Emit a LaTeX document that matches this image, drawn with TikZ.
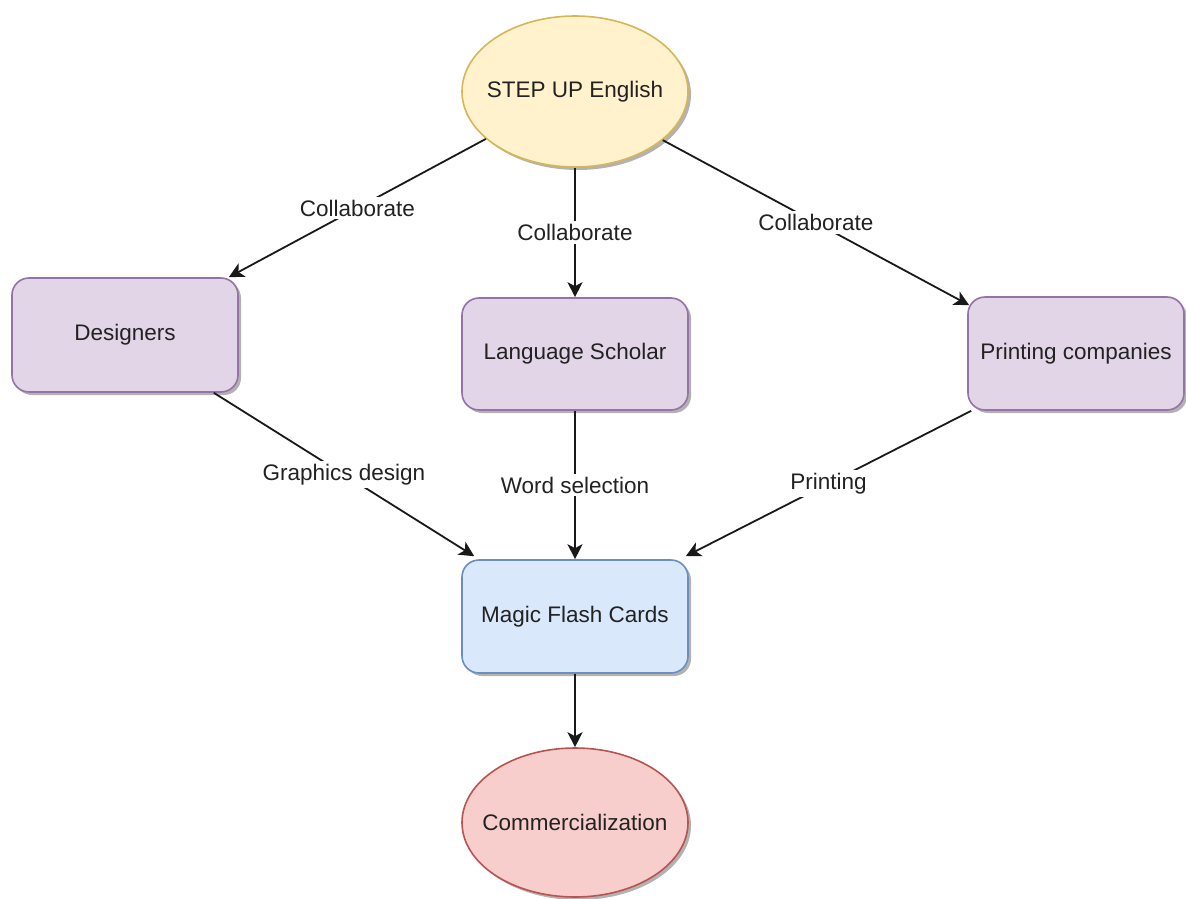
\documentclass[tikz,border=0pt]{standalone}
\usepackage{fontspec}
\setmainfont{Liberation Sans}
\usetikzlibrary{shapes.geometric,arrows.meta,shadows,calc}

\definecolor{yfill}{HTML}{FFF2CC}\definecolor{ydraw}{HTML}{D6B656}
\definecolor{pfill}{HTML}{E1D5E7}\definecolor{pdraw}{HTML}{9673A6}
\definecolor{bfill}{HTML}{DAE8FC}\definecolor{bdraw}{HTML}{6C8EBF}
\definecolor{rfill}{HTML}{F8CECC}\definecolor{rdraw}{HTML}{B85450}
\definecolor{ink}{HTML}{222222}

\tikzset{
  base/.style={line width=1.6pt, text=ink, font=\fontsize{22.5}{27}\selectfont,
    inner sep=0pt,
    drop shadow={shadow xshift=3pt, shadow yshift=-3pt, opacity=0.3, fill=black}},
  oval/.style={base, ellipse, minimum width=226pt, minimum height=151pt},
  card/.style={base, rectangle, rounded corners=17pt},
  purplecard/.style={card, fill=pfill, draw=pdraw},
  link/.style={line width=1.8pt, draw=black!90, -{Stealth[length=15pt,width=15pt,inset=4pt]}},
  lbl/.style={fill=white, text=ink, inner sep=3pt, font=\fontsize{22.5}{27}\selectfont}
}
% text set in a zero-width box so the ellipse keeps its given size
\newcommand{\ovaltext}[1]{\makebox[0pt]{#1}}

\begin{document}
\begin{tikzpicture}[x=1pt,y=-1pt]
  \useasboundingbox (0,0) rectangle (1186,899);

  % nodes
  \node[oval, fill=yfill, draw=ydraw] (step) at (575,91.5) {\ovaltext{STEP UP English}};
  \node[purplecard, minimum width=226pt, minimum height=114pt] (des) at (125,335) {Designers};
  \node[purplecard, minimum width=226pt, minimum height=112pt] (lang) at (575,354) {Language Scholar};
  \node[purplecard, minimum width=216pt, minimum height=113pt] (print) at (1076,353.5) {Printing companies};
  \node[card, fill=bfill, draw=bdraw, minimum width=226pt, minimum height=113pt] (magic) at (575,616.5) {Magic Flash Cards};
  \node[oval, fill=rfill, draw=rdraw, minimum height=149pt] (comm) at (575,822.5) {\ovaltext{Commercialization}};

  % connectors
  \draw[link] (step.208) -- node[lbl] {Collaborate} ($(des.north east)+(-10,0)$);
  \draw[link] (step.south) -- node[lbl] {Collaborate} (lang.north);
  \draw[link] (step.-29) -- node[lbl] {Collaborate} ($(print.north west)+(2,9)$);

  \draw[link] ($(des.south east)+(-25,0)$) -- node[lbl] {Graphics design} ($(magic.north west)+(13,-3)$);
  \draw[link] (lang.south) -- node[lbl] {Word selection} (magic.north);
  \draw[link] ($(print.south west)+(4,0)$) -- node[lbl] {Printing} ($(magic.north east)+(-3,-3)$);

  \draw[link] (magic.south) -- (comm.north);
\end{tikzpicture}
\end{document}
